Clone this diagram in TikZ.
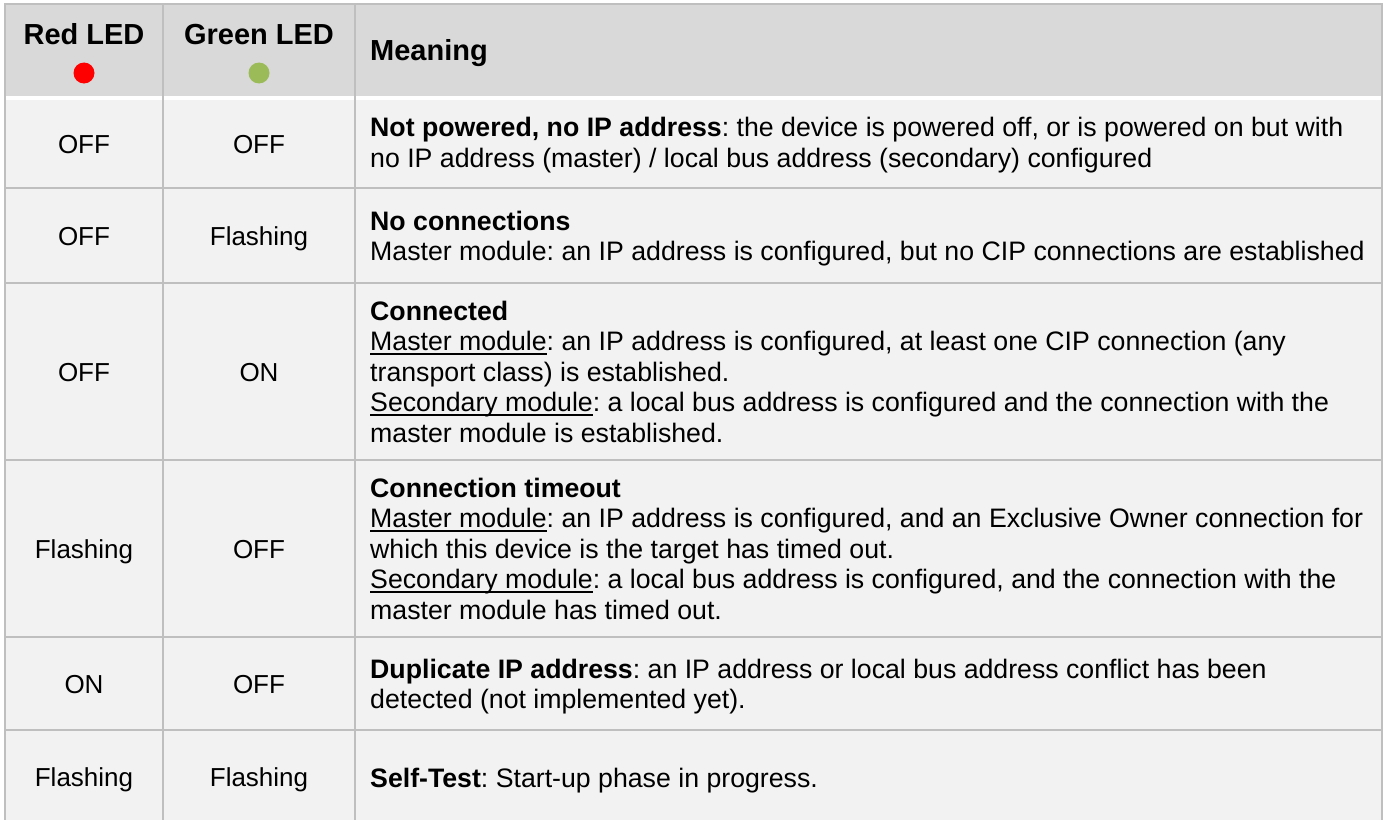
\documentclass[tikz,border=0pt]{standalone}
\usepackage{fontspec}
\setmainfont{Liberation Sans}
\definecolor{hdrbg}{HTML}{D9D9D9}
\definecolor{bodybg}{HTML}{F2F2F2}
\definecolor{gridc}{HTML}{BFBFBF}
\definecolor{ledred}{HTML}{FF0000}
\definecolor{ledgreen}{HTML}{9BBB59}
\newcommand\myul[1]{\setbox0\hbox{#1}\rlap{\rule[-4.2bp]{\wd0}{1.8bp}}\box0}
\frenchspacing
\tikzset{
  gridline/.style={draw=gridc, line width=1.6bp},
  hdrtext/.style={anchor=base, inner sep=0, font={\fontsize{29bp}{34bp}\selectfont\bfseries}},
  celltext/.style={anchor=base, inner sep=0, font={\fontsize{26bp}{30.5bp}\selectfont}},
  meantext/.style={anchor=base west, inner sep=0, align=left, font={\fontsize{26.7bp}{30.5bp}\selectfont\frenchspacing}},
  led/.style={circle, inner sep=0, minimum size=21bp},
}
\begin{document}
\begin{tikzpicture}[x=1bp,y=-1bp]
\useasboundingbox (0,0) rectangle (1387,820);
% backgrounds
\fill[hdrbg] (5,4) rectangle (1382,96);
\fill[white] (5,96) rectangle (1382,100);
\fill[bodybg] (5,100) rectangle (1382,820);
% grid
\draw[gridline] (5,820) -- (5,4) -- (1382,4) -- (1382,820);
\draw[gridline] (163,4) -- (163,820);
\draw[gridline] (355,4) -- (355,820);
\foreach \yy in {188,283,460,637,730} {\draw[gridline] (5,\yy) -- (1382,\yy);}
% header
\node[hdrtext] (hred) at (84,45) {Red LED};
\node[hdrtext] (hgreen) at (259,45) {Green LED};
\node[hdrtext, anchor=base west] (hmean) at (370,61) {Meaning};
\node[led, fill=ledred] (reddot) at (84,73) {};
\node[led, fill=ledgreen] (greendot) at (259,73) {};
% row 1 (base anchor = last line)
\node[celltext] (r1a) at (84,153) {OFF};
\node[celltext] (r1b) at (259,153) {OFF};
\node[meantext] (r1m) at (370,167.2) {\textbf{Not powered, no IP address}: the device is powered off, or is powered on but with\\no IP address (master) / local bus address (secondary) configured};
% row 2
\node[celltext] (r2a) at (84,245) {OFF};
\node[celltext] (r2b) at (259,245) {Flashing};
\node[meantext] (r2m) at (370,260.5) {\textbf{No connections}\\Master module: an IP address is configured, but no CIP connections are established};
% row 3
\node[celltext] (r3a) at (84,381) {OFF};
\node[celltext] (r3b) at (259,381) {ON};
\node[meantext] (r3m) at (370,442) {\textbf{Connected}\\\myul{Master module}: an IP address is configured, at least one CIP connection (any\\transport class) is established.\\\myul{Secondary module}: a local bus address is configured and the connection with the\\master module is established.};
% row 4
\node[celltext] (r4a) at (84,558) {Flashing};
\node[celltext] (r4b) at (259,558) {OFF};
\node[meantext] (r4m) at (370,619) {\textbf{Connection timeout}\\\myul{Master module}: an IP address is configured, and an Exclusive Owner connection for\\which this device is the target has timed out.\\\myul{Secondary module}: a local bus address is configured, and the connection with the\\master module has timed out.};
% row 5
\node[celltext] (r5a) at (84,693) {ON};
\node[celltext] (r5b) at (259,693) {OFF};
\node[meantext] (r5m) at (370,708.5) {\textbf{Duplicate IP address}: an IP address or local bus address conflict has been\\detected (not implemented yet).};
% row 6
\node[celltext] (r6a) at (84,786) {Flashing};
\node[celltext] (r6b) at (259,786) {Flashing};
\node[meantext] (r6m) at (370,787) {\textbf{Self-Test}: Start-up phase in progress.};
\end{tikzpicture}
\end{document}
